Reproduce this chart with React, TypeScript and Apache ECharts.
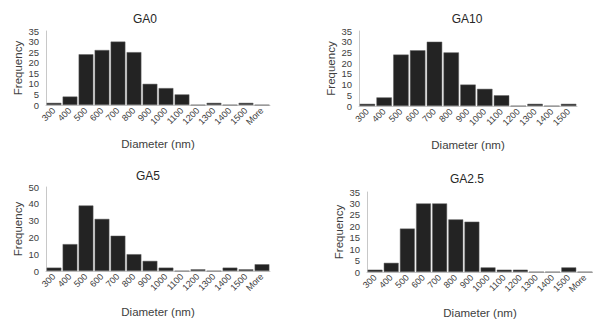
import React, { useEffect, useRef } from "react";
import * as echarts from "echarts";

const catsFull = ["300", "400", "500", "600", "700", "800", "900", "1000", "1100", "1200", "1300", "1400", "1500", "More"];
const catsGA10 = ["300", "400", "500", "600", "700", "800", "900", "1000", "1100", "1200", "1300", "1400", "1500"];

const ga0Values = [1, 4, 24, 26, 30, 25, 10, 8, 5, 0, 1, 0, 1, 0];
const ga10Values = [1, 4, 24, 26, 30, 25, 10, 8, 5, 0, 1, 0, 1];
const ga5Values = [2, 16, 39, 31, 21, 10, 6, 2, 0, 1, 0, 2, 1, 4];
const ga25Values = [1, 4, 19, 30, 30, 23, 22, 2, 1, 1, 0, 0, 2, 0];

const titles = ["GA0", "GA10", "GA5", "GA2.5"];

export default function App() {
  const ref = useRef<HTMLDivElement>(null);
  useEffect(() => {
    const chart = echarts.init(ref.current!, undefined, { renderer: "svg" });
    const font = "Liberation Sans, Arial, sans-serif";
    const grids = [
      { left: 46, top: 31, width: 224, height: 74 },
      { left: 359, top: 31, width: 218, height: 75 },
      { left: 46, top: 187, width: 224, height: 84 },
      { left: 367, top: 192, width: 233, height: 80 },
    ];
    const cats = [catsFull, catsGA10, catsFull, catsFull];
    const vals = [ga0Values, ga10Values, ga5Values, ga25Values];
    const maxes = [35, 35, 50, 35];
    const ints = [5, 5, 10, 5];
    const titlePos = [
      [140, 8],
      [462, 8],
      [143, 165],
      [462, 168],
    ];
    const xNameGap = [33, 33, 35, 35];
    const yNameGap = [22, 22, 22, 22];
    const option: any = {
      animation: false,
      backgroundColor: "#ffffff",
      title: titles.map((t, i) => ({
        text: t,
        left: titlePos[i][0],
        top: titlePos[i][1],
        textAlign: "center",
        textStyle: { fontFamily: font, fontSize: 12, fontWeight: "normal", color: "#262626" },
      })),
      grid: grids.map((g) => ({ ...g, containLabel: false })),
      xAxis: cats.map((c, i) => ({
        type: "category",
        gridIndex: i,
        data: c,
        name: "Diameter (nm)",
        nameLocation: "middle",
        nameGap: xNameGap[i],
        nameTextStyle: { fontFamily: font, fontSize: 11.5, color: "#404040" },
        axisLine: { show: true, lineStyle: { color: "#c8c8c8", width: 1 } },
        axisTick: { show: false },
        axisLabel: {
          rotate: 45,
          interval: 0,
          fontFamily: font,
          fontSize: 9,
          color: "#404040",
          margin: 4,
        },
      })),
      yAxis: vals.map((_, i) => ({
        type: "value",
        gridIndex: i,
        min: 0,
        max: maxes[i],
        interval: ints[i],
        name: "Frequency",
        nameLocation: "middle",
        nameGap: yNameGap[i],
        nameTextStyle: { fontFamily: font, fontSize: 11.5, color: "#404040" },
        axisLine: { show: true, lineStyle: { color: "#c8c8c8", width: 1 } },
        axisTick: { show: false },
        splitLine: { show: false },
        axisLabel: { fontFamily: font, fontSize: 9.5, color: "#404040", margin: 7 },
      })),
      series: vals.map((v, i) => ({
        type: "bar",
        xAxisIndex: i,
        yAxisIndex: i,
        data: v,
        barCategoryGap: "8%",
        itemStyle: { color: "#232323", borderColor: "#606060", borderWidth: 0.5 },
      })),
    };
    chart.setOption(option);
    return () => chart.dispose();
  }, []);
  return (
    <div
      ref={ref}
      style={{ position: "fixed", left: 0, top: 0, width: 593, height: 323, background: "#fff" }}
    />
  );
}
